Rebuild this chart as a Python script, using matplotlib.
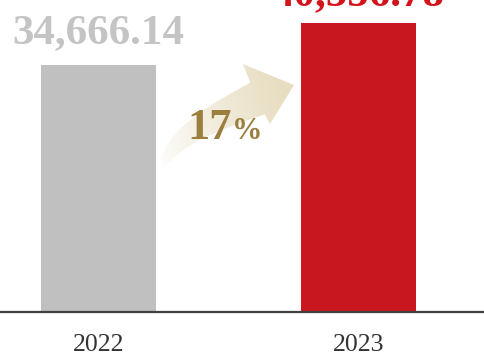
import numpy as np
import matplotlib
matplotlib.use("Agg")
import matplotlib.pyplot as plt
from matplotlib.path import Path
from matplotlib.patches import PathPatch

years = ["2022", "2023"]
values = [34666.14, 40556.78]
value_labels = ["34,666.14", "40,556.78"]
growth = "17"

bar_colors = ["#c0c0c0", "#c8171e"]
label_colors = ["#c4c4c4", "#d4141c"]
label_offsets = [16, 13]  # points above the bar top

W, H = 484, 356
fig = plt.figure(figsize=(W / 100, H / 100), dpi=100)

ax = fig.add_axes([0, 44 / H, 1, 312 / H])
x = np.arange(len(years))
ax.bar(x, values, width=0.442, color=bar_colors, zorder=2)
ax.set_xlim(-0.379, 1.483)
ax.set_ylim(0, values[0] * 312 / 247)

for s in ["top", "left", "right"]:
    ax.spines[s].set_visible(False)
ax.spines["bottom"].set_color("#404040")
ax.spines["bottom"].set_linewidth(1.6)
ax.set_yticks([])
ax.set_xticks(x)
ax.set_xticklabels(years, fontfamily="Liberation Serif", fontsize=18.5, color="#333333")
ax.tick_params(axis="x", length=0, pad=16)

for xi, v, lab, c, off in zip(x, values, value_labels, label_colors, label_offsets):
    ax.annotate(lab, (xi, v), xytext=(0, off), textcoords="offset points",
                ha="center", va="baseline", fontfamily="Liberation Serif",
                fontweight="bold", fontsize=31, color=c, annotation_clip=False)

# overlay in pixel coordinates for the growth arrow
ov = fig.add_axes([0, 0, 1, 1], zorder=3)
ov.axis("off")
ov.patch.set_alpha(0)

# curved shaft along a cubic bezier, widening quickly from the tail
p0 = np.array([163.0, 166.0])
c1 = np.array([176.0, 132.0])
c2 = np.array([228.0, 112.0])
p3 = np.array([257.5, 98.5])
t = np.linspace(0, 1, 100)[:, None]
pts = (1 - t) ** 3 * p0 + 3 * (1 - t) ** 2 * t * c1 + 3 * (1 - t) * t ** 2 * c2 + t ** 3 * p3
d = 3 * (1 - t) ** 2 * (c1 - p0) + 6 * (1 - t) * t * (c2 - c1) + 3 * t ** 2 * (p3 - c2)
d /= np.linalg.norm(d, axis=1, keepdims=True)
nrm = np.column_stack([d[:, 1], -d[:, 0]])
half = (0.5 + 17 * t.ravel() ** 0.55)[:, None]
upper = pts + nrm * half
lower = pts - nrm * half
head_top = [243.0, 64.0]
head_tip = [294.0, 85.0]
head_bot = [270.0, 124.0]
poly = np.vstack([upper, [head_top], [head_tip], [head_bot], lower[::-1], upper[:1]])
patch = PathPatch(Path(poly, closed=True), facecolor="none", edgecolor="none")
ov.add_patch(patch)

gx, gy = np.meshgrid(np.linspace(0, 1, 200), np.linspace(0, 1, 200))
g = np.clip(0.8 * gx + 0.2 * (1 - gy), 0, 1)
rgba = np.zeros((200, 200, 4))
rgba[..., 0] = 231 / 255
rgba[..., 1] = 221 / 255
rgba[..., 2] = 192 / 255
rgba[..., 3] = np.clip(g ** 0.8 * 1.1, 0, 1)
im = ov.imshow(rgba, extent=[158, 296, 172, 60], origin="upper", interpolation="bilinear")
im.set_clip_path(patch)
ov.set_xlim(0, W)
ov.set_ylim(H, 0)

ov.text(232, 139, growth, ha="right", va="baseline", fontfamily="Liberation Serif",
        fontweight="bold", fontsize=32, color="#9a7f3f")
ov.text(232, 139, "%", ha="left", va="baseline", fontfamily="Liberation Serif",
        fontweight="bold", fontsize=22, color="#9a7f3f")

fig.savefig("out.png", dpi=100)
